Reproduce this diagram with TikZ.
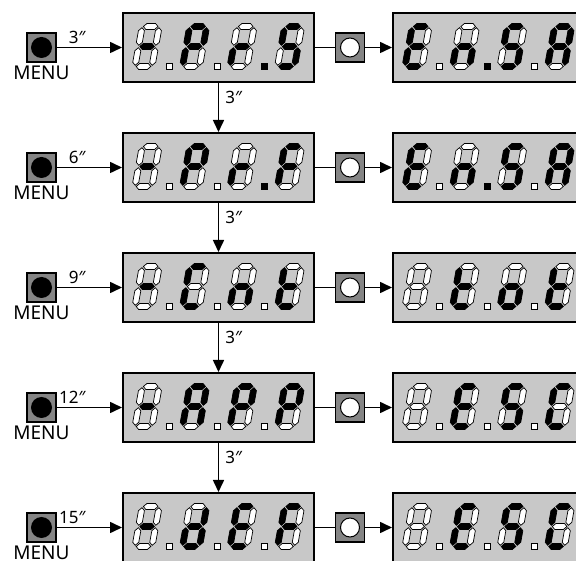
\documentclass[tikz,border=0pt]{standalone}
\usepackage{fontspec}
\setmainfont{Noto Sans}
\usetikzlibrary{arrows.meta,positioning}
\definecolor{panel}{HTML}{C8C8C8}
\definecolor{keygray}{HTML}{858585}
\tikzset{
  base/.style={font=\fontsize{17}{20}\selectfont, text=black},
  display/.style={draw=black, line width=2pt, fill=panel, minimum width=191pt, minimum height=69pt, inner sep=0pt},
  key/.style={draw=black, line width=1.2pt, fill=keygray, minimum size=29pt, inner sep=0pt},
  menukey/.style={key, path picture={\fill[black] (path picture bounding box.center) circle (10.5pt);}},
  setkey/.style={key, path picture={\draw[black, line width=1pt, fill=white] (path picture bounding box.center) circle (9.5pt);}},
  arrow/.style={-{Triangle[length=12pt,width=11pt]}, line width=1.6pt},
  link/.style={line width=1.6pt},
  seg/.style={draw=black, line width=0.7pt},
  keylabel/.style={base, font=\fontsize{19}{22}\selectfont},
  timelabel/.style={base, inner sep=3pt},
}
% segments in the order a b c d e f g
\def\glyphm{0,0,0,0,0,0,1}
\def\glyphb{0,0,0,0,0,0,0}
\def\glyphP{1,1,0,0,1,1,1}
\def\glyphr{0,0,0,0,1,0,1}
\def\glyphS{1,0,1,1,0,1,1}
\def\glyphE{1,0,0,1,1,1,1}
\def\glyphn{0,0,1,0,1,0,1}
\def\glyphA{1,1,1,0,1,1,1}
\def\glyphF{1,0,0,0,1,1,1}
\def\glyphC{1,0,0,1,1,1,0}
\def\glypht{0,0,0,1,1,1,1}
\def\glypho{0,0,1,1,1,0,1}
\def\glyphd{0,1,1,1,1,0,1}
\newcommand{\hseg}[2]{\draw[seg, fill=\segfill] (#1+1.2,#2) -- ++(3,3) -- ++(8.6,0) -- ++(3,-3) -- ++(-3,-3) -- ++(-8.6,0) -- cycle;}
\newcommand{\vseg}[2]{\draw[seg, fill=\segfill] (#1,#2+1.2) -- ++(3,3) -- ++(0,11.6) -- ++(-3,3) -- ++(-3,-3) -- ++(0,-11.6) -- cycle;}
\newcommand{\sevenseg}[3]{%
  \edef\segbits{\csname glyph#3\endcsname}%
  \begin{scope}[shift={(#1.north west)}, xshift={13+47.5*#2}, yshift=-54.5, xslant=0.18]
    \foreach \on [count=\i] in \segbits {%
      \ifnum\on=1\relax\def\segfill{black}\else\def\segfill{white}\fi
      \ifcase\i\or\hseg{0}{40}\or\vseg{17}{20}\or\vseg{17}{0}\or\hseg{0}{0}\or\vseg{0}{0}\or\vseg{0}{20}\or\hseg{0}{20}\fi}
  \end{scope}}
\newcommand{\decpoint}[3]{%
  \ifnum#3=1\relax\def\segfill{black}\else\def\segfill{white}\fi
  \draw[seg, fill=\segfill] ([xshift={44.5+47.5*#2}, yshift=-57.5]#1.north west) rectangle ++(6,6);}
\newcommand{\segdisplay}[3]{%
  \foreach \ch [count=\k from 0] in {#2} {\sevenseg{#1}{\k}{\ch}}%
  \foreach \on [count=\k from 0] in {#3} {\decpoint{#1}{\k}{\on}}}

\begin{document}
\begin{tikzpicture}[x=1pt,y=1pt]
  \useasboundingbox (0,0) rectangle (576,560);
  \clip (0,0) rectangle (576,560);

  \foreach \r/\secs in {1/3,2/6,3/9,4/12,5/15} {
    \node[menukey] (menu\r) at (41.5,632.5-120*\r) {};
    \node[keylabel, below=0pt of menu\r] (menutext\r) {MENU};
    \node[display] (left\r) at (218.5,632.5-120*\r) {};
    \node[setkey] (set\r) at (350,632.5-120*\r) {};
    \node[display] (right\r) at (488.5,632.5-120*\r) {};
    \draw[arrow] (menu\r) -- (left\r) node[timelabel, pos=0.5, anchor=south east] {\secs″};
    \draw[link] (left\r) -- (set\r);
    \draw[arrow] (set\r) -- (right\r);
  }
  \foreach \r [count=\n from 2] in {1,...,4}
    \draw[arrow] (left\r) -- (left\n) node[timelabel, pos=0.3, anchor=west, xshift=3pt] {3″};

  \segdisplay{left1}{m,P,r,S}{0,0,1}
  \segdisplay{right1}{E,n,S,A}{0,1,0}
  \segdisplay{left2}{m,P,r,F}{0,0,1}
  \segdisplay{right2}{E,n,S,A}{0,1,0}
  \segdisplay{left3}{m,C,n,t}{0,0,0}
  \segdisplay{right3}{b,t,o,t}{0,0,0}
  \segdisplay{left4}{m,A,P,P}{0,0,0}
  \segdisplay{right4}{b,E,S,C}{0,0,0}
  \segdisplay{left5}{m,d,E,F}{0,0,0}
  \segdisplay{right5}{b,E,S,C}{0,0,0}
\end{tikzpicture}
\end{document}
